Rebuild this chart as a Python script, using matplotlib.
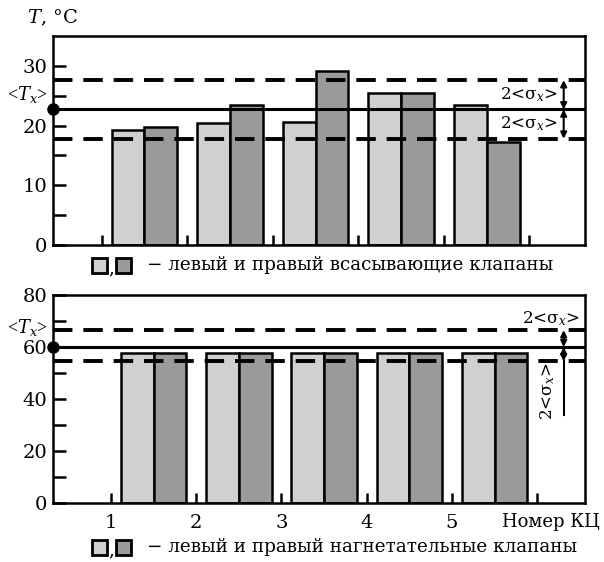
import matplotlib
matplotlib.use('Agg')
import matplotlib.pyplot as plt
from matplotlib.patches import Rectangle

plt.rcParams['font.family'] = ['DejaVu Serif']
plt.rcParams['mathtext.fontset'] = 'dejavuserif'

# номера КЦ
cyl = [1, 2, 3, 4, 5]

# всасывающие клапаны, T, °C
suct_left = [19.2, 20.5, 20.6, 25.4, 23.4]
suct_right = [19.7, 23.5, 29.2, 25.4, 17.3]
suct_mean = 22.7
suct_hi = 27.6
suct_lo = 17.8

# нагнетательные клапаны, T, °C
disch_left = [57.7, 57.7, 57.7, 57.7, 57.7]
disch_right = [57.7, 57.7, 57.7, 57.7, 57.7]
disch_mean = 60.0
disch_hi = 66.5
disch_lo = 54.5

light = '#d0d0d0'
dark = '#9a9a9a'
w = 0.385
fs = 14

fig = plt.figure(figsize=(6.04, 5.62), dpi=100)
ax1 = fig.add_axes([0.0877, 0.564, 0.8808, 0.372])
ax2 = fig.add_axes([0.0877, 0.105, 0.8808, 0.370])


def draw(ax, left, right, mean, hi, lo, xlim, ylim, major, minor):
    xs = [c + 0.5 for c in cyl]
    ax.bar([x - w / 2 for x in xs], left, w, color=light, edgecolor='black', linewidth=1.8, zorder=2)
    ax.bar([x + w / 2 for x in xs], right, w, color=dark, edgecolor='black', linewidth=1.8, zorder=2)
    ax.axhline(mean, color='black', lw=2.2, zorder=3)
    ax.axhline(hi, color='black', lw=2.8, ls=(0, (5, 2.8)), zorder=3)
    ax.axhline(lo, color='black', lw=2.8, ls=(0, (5, 2.8)), zorder=3)
    ax.plot([xlim[0]], [mean], 'o', color='black', ms=8, clip_on=False, zorder=5)
    ax.set_xlim(*xlim)
    ax.set_ylim(*ylim)
    ax.set_yticks(major)
    ax.set_yticks(minor, minor=True)
    ax.set_xticks(cyl + [6])
    ax.tick_params(axis='y', which='both', direction='in', length=9, width=1.8, labelsize=fs, pad=4)
    ax.tick_params(axis='x', direction='in', length=7, width=1.8, labelsize=fs, pad=8)
    for s in ax.spines.values():
        s.set_linewidth(1.8)


draw(ax1, suct_left, suct_right, suct_mean, suct_hi, suct_lo,
     (0.43, 6.65), (0, 35), [0, 10, 20, 30], [5, 15, 25])
draw(ax2, disch_left, disch_right, disch_mean, disch_hi, disch_lo,
     (0.32, 6.56), (0, 80), [0, 20, 40, 60, 80], [10, 30, 50, 70])

ax1.set_xticklabels([])
ax2.set_xticklabels([str(c) for c in cyl] + [''])
ax2.text(6.16, -0.048, 'Номер КЦ', transform=ax2.get_xaxis_transform(),
         ha='center', va='top', fontsize=13)

# подписи оси
fig.text(27 / 604, 1 - 18 / 562, '$T$, °C', fontsize=fs, va='center', ha='left')
ax1.text(-0.01, 23.4, r'<$T_x$>', transform=ax1.get_yaxis_transform(),
         ha='right', va='bottom', fontsize=13, family='Liberation Serif')
ax2.text(-0.01, 63.5, r'<$T_x$>', transform=ax2.get_yaxis_transform(),
         ha='right', va='bottom', fontsize=13, family='Liberation Serif')

# стрелки 2<σx>
arr = dict(arrowstyle='<|-|>', color='black', lw=1.5, mutation_scale=9, shrinkA=0, shrinkB=0)
xa1 = 0.96
ax1.annotate('', xy=(xa1, suct_hi), xytext=(xa1, suct_mean),
             xycoords=ax1.get_yaxis_transform(), arrowprops=arr)
ax1.annotate('', xy=(xa1, suct_mean), xytext=(xa1, suct_lo),
             xycoords=ax1.get_yaxis_transform(), arrowprops=arr)
ax1.text(0.948, (suct_hi + suct_mean) / 2, r'2<σ$_x$>', transform=ax1.get_yaxis_transform(),
         ha='right', va='center', fontsize=12)
ax1.text(0.948, (suct_mean + suct_lo) / 2, r'2<σ$_x$>', transform=ax1.get_yaxis_transform(),
         ha='right', va='center', fontsize=12)

xa2 = 0.96
ax2.annotate('', xy=(xa2, disch_hi), xytext=(xa2, disch_mean),
             xycoords=ax2.get_yaxis_transform(), arrowprops=arr)
ax2.annotate('', xy=(xa2, disch_mean), xytext=(xa2, disch_lo),
             xycoords=ax2.get_yaxis_transform(), arrowprops=arr)
ax2.plot([xa2, xa2], [disch_lo, 34], color='black', lw=1.5, transform=ax2.get_yaxis_transform())
ax2.text(0.99, 67.5, r'2<σ$_x$>', transform=ax2.get_yaxis_transform(),
         ha='right', va='bottom', fontsize=12)
ax2.text(0.93, 43, r'2<σ$_x$>', transform=ax2.get_yaxis_transform(),
         ha='center', va='center', rotation=90, fontsize=12)

# легенды
def legend_row(y_px, label):
    y = 1 - y_px / 562
    h = 15 / 562
    wq = 15 / 604
    fig.patches.append(Rectangle((92 / 604, y - h / 2), wq, h, facecolor=light, edgecolor='black',
                                 lw=2, transform=fig.transFigure, figure=fig))
    fig.text(108 / 604, y - 0.006, ',', fontsize=13, ha='left', va='center')
    fig.patches.append(Rectangle((116 / 604, y - h / 2), wq, h, facecolor=dark, edgecolor='black',
                                 lw=2, transform=fig.transFigure, figure=fig))
    fig.text(147 / 604, y, '− ' + label, fontsize=13.2, ha='left', va='center')


legend_row(265, 'левый и правый всасывающие клапаны')
legend_row(547, 'левый и правый нагнетательные клапаны')

fig.savefig('out.png', dpi=100)
